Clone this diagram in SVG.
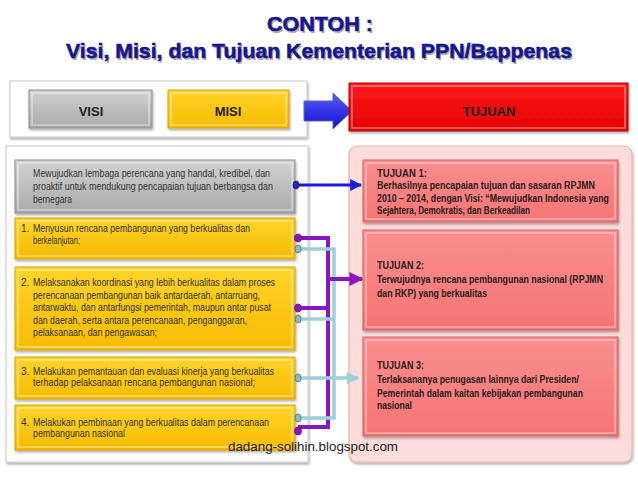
<svg xmlns="http://www.w3.org/2000/svg" width="638" height="479" viewBox="0 0 638 479">
<defs>
<linearGradient id="gGray" x1="0" y1="0" x2="0" y2="1"><stop offset="0" stop-color="#d2d2d2"/><stop offset="1" stop-color="#a9a9a9"/></linearGradient>
<linearGradient id="gYel" x1="0" y1="0" x2="0" y2="1"><stop offset="0" stop-color="#ffd42a"/><stop offset="1" stop-color="#f7bb00"/></linearGradient>
<linearGradient id="gRed" x1="0" y1="0" x2="0" y2="1"><stop offset="0" stop-color="#ff1a1a"/><stop offset="1" stop-color="#e40000"/></linearGradient>
<linearGradient id="gSal" x1="0" y1="0" x2="0" y2="1"><stop offset="0" stop-color="#fb8e8e"/><stop offset="1" stop-color="#f57474"/></linearGradient>
<linearGradient id="gBlue" x1="0" y1="0" x2="0" y2="1"><stop offset="0" stop-color="#5a5aff"/><stop offset="1" stop-color="#1010d0"/></linearGradient>
<marker id="aBlue" viewBox="0 0 10 10" refX="9" refY="5" markerWidth="4" markerHeight="4" orient="auto" markerUnits="strokeWidth"><path d="M0,0 L10,5 L0,10 z" fill="#1c1cd8"/></marker>
<marker id="aPur" viewBox="0 0 10 10" refX="9" refY="5" markerWidth="3.5" markerHeight="3.5" orient="auto" markerUnits="strokeWidth"><path d="M0,0 L10,5 L0,10 z" fill="#8a16c0"/></marker>
<marker id="aLb" viewBox="0 0 10 10" refX="9" refY="5" markerWidth="3.5" markerHeight="3.5" orient="auto" markerUnits="strokeWidth"><path d="M0,0 L10,5 L0,10 z" fill="#9ccfdc"/></marker>
<filter id="sh" x="-5%" y="-5%" width="110%" height="115%"><feDropShadow dx="1" dy="2" stdDeviation="1.2" flood-color="#000" flood-opacity="0.3"/></filter>
</defs>
<style>
.title{font-family:"Liberation Sans",Arial,sans-serif;font-weight:bold;fill:#16168e;stroke:#16168e;stroke-width:0.6;}
.tsh{font-family:"Liberation Sans",Arial,sans-serif;font-weight:bold;fill:#777;opacity:0.6;}
.hdr{font-family:"Liberation Sans",Arial,sans-serif;font-weight:bold;font-size:13px;fill:#222;}
.mt{font-family:"Liberation Sans",Arial,sans-serif;font-size:10px;fill:#333;}
.tt{font-family:"Liberation Sans",Arial,sans-serif;font-weight:bold;font-size:10px;fill:#2a1a1a;}
.panel{fill:#fff;stroke:#cfcfcf;stroke-width:1.2;}
.gray{fill:url(#gGray);stroke:#8c8c8c;stroke-width:1;}
.yel{fill:url(#gYel);stroke:#d9a200;stroke-width:1;}
.sal{fill:url(#gSal);stroke:#d86262;stroke-width:1;}
.hl{fill:none;stroke:#fff;stroke-opacity:0.45;stroke-width:1.5;}
.ln{fill:none;stroke-linejoin:miter;}
</style>
<g id="title">
<text class="tsh" x="321.5" y="32.5" font-size="21" text-anchor="middle" textLength="106" lengthAdjust="spacingAndGlyphs">CONTOH :</text>
<text class="title" x="320" y="31" font-size="21" text-anchor="middle" textLength="106" lengthAdjust="spacingAndGlyphs">CONTOH :</text>
<text class="tsh" x="320.5" y="59.5" font-size="21" text-anchor="middle" textLength="506" lengthAdjust="spacingAndGlyphs">Visi, Misi, dan Tujuan Kementerian PPN/Bappenas</text>
<text class="title" x="319" y="58" font-size="21" text-anchor="middle" textLength="506" lengthAdjust="spacingAndGlyphs">Visi, Misi, dan Tujuan Kementerian PPN/Bappenas</text>
</g>
<g id="header-panel"><rect class="panel" x="10" y="81" width="297" height="56" filter="url(#sh)"/></g>
<g id="visi-header">
<rect class="gray" x="29" y="90" width="123" height="38" filter="url(#sh)"/>
<rect class="hl" x="32" y="93" width="117" height="32"/>
<text class="hdr" x="91" y="116" text-anchor="middle">VISI</text>
</g>
<g id="misi-header">
<rect class="yel" x="168" y="90" width="121" height="38" filter="url(#sh)"/>
<rect class="hl" x="171" y="93" width="115" height="32"/>
<text class="hdr" x="228" y="116" text-anchor="middle">MISI</text>
</g>
<g id="big-arrow"><path d="M304,101 L333,101 L333,93 L352,111 L333,129 L333,121 L304,121 Z" fill="url(#gBlue)" stroke="#5a6aa0" stroke-width="1"/></g>
<g id="tujuan-header">
<rect x="349" y="83" width="279" height="48" fill="url(#gRed)" stroke="#b80000" stroke-width="1" filter="url(#sh)"/>
<rect class="hl" x="352" y="86" width="273" height="42"/>
<text class="hdr" x="489" y="116" text-anchor="middle" fill="#3a0000">TUJUAN</text>
</g>
<g id="misi-panel"><rect class="panel" x="6" y="146" width="302" height="316" filter="url(#sh)"/></g>
<g id="tujuan-panel"><rect x="349" y="146" width="283" height="316" rx="8" fill="#fddcdc" stroke="#f0aeae" stroke-width="1.2" filter="url(#sh)"/></g>
<g id="visi">
<rect class="gray" x="15" y="160" width="280" height="53" filter="url(#sh)"/>
<rect class="hl" x="18" y="163" width="274" height="47"/>
<text class="mt"><tspan x="33" y="177" textLength="237" lengthAdjust="spacingAndGlyphs">Mewujudkan lembaga perencana yang handal, kredibel, dan</tspan><tspan x="33" y="190" textLength="240" lengthAdjust="spacingAndGlyphs">proaktif untuk mendukung pencapaian tujuan berbangsa dan</tspan><tspan x="33" y="203" textLength="39" lengthAdjust="spacingAndGlyphs">bernegara</tspan></text>
</g>
<g id="misi1">
<rect class="yel" x="15" y="218" width="280" height="41" filter="url(#sh)"/>
<rect class="hl" x="18" y="221" width="274" height="35"/>
<text class="mt"><tspan x="21" y="232">1.</tspan><tspan x="33" y="232" textLength="217" lengthAdjust="spacingAndGlyphs">Menyusun rencana pembangunan yang berkualitas dan</tspan><tspan x="33" y="244" textLength="47" lengthAdjust="spacingAndGlyphs">berkelanjutan;</tspan></text>
</g>
<g id="misi2">
<rect class="yel" x="15" y="267" width="280" height="83" filter="url(#sh)"/>
<rect class="hl" x="18" y="270" width="274" height="77"/>
<text class="mt"><tspan x="21" y="286">2.</tspan><tspan x="33" y="286" textLength="242" lengthAdjust="spacingAndGlyphs">Melaksanakan koordinasi yang lebih berkualitas dalam proses</tspan><tspan x="33" y="299" textLength="227" lengthAdjust="spacingAndGlyphs">perencanaan pembangunan baik antardaerah, antarruang,</tspan><tspan x="33" y="311" textLength="238" lengthAdjust="spacingAndGlyphs">antarwaktu, dan antarfungsi pemerintah, maupun antar pusat</tspan><tspan x="33" y="324" textLength="214" lengthAdjust="spacingAndGlyphs">dan daerah, serta antara perencanaan, penganggaran,</tspan><tspan x="33" y="336" textLength="124" lengthAdjust="spacingAndGlyphs">pelaksanaan, dan pengawasan;</tspan></text>
</g>
<g id="misi3">
<rect class="yel" x="15" y="357" width="280" height="42" filter="url(#sh)"/>
<rect class="hl" x="18" y="360" width="274" height="36"/>
<text class="mt"><tspan x="21" y="375">3.</tspan><tspan x="33" y="375" textLength="241" lengthAdjust="spacingAndGlyphs">Melakukan pemantauan dan evaluasi kinerja yang berkualitas</tspan><tspan x="33" y="386" textLength="222" lengthAdjust="spacingAndGlyphs">terhadap pelaksanaan rencana pembangunan nasional;</tspan></text>
</g>
<g id="misi4">
<rect class="yel" x="15" y="405" width="280" height="45" filter="url(#sh)"/>
<rect class="hl" x="18" y="408" width="274" height="39"/>
<text class="mt"><tspan x="21" y="426">4.</tspan><tspan x="33" y="426" textLength="236" lengthAdjust="spacingAndGlyphs">Melakukan pembinaan  yang berkualitas dalam perencanaan</tspan><tspan x="33" y="437" textLength="92" lengthAdjust="spacingAndGlyphs">pembangunan nasional</tspan></text>
</g>
<g id="tujuan1">
<rect class="sal" x="363" y="160" width="255" height="62" filter="url(#sh)"/>
<rect class="hl" x="366" y="163" width="249" height="56"/>
<text class="tt"><tspan x="377" y="177" textLength="50" lengthAdjust="spacingAndGlyphs">TUJUAN 1:</tspan><tspan x="377" y="189" textLength="218" lengthAdjust="spacingAndGlyphs">Berhasilnya  pencapaian tujuan dan sasaran RPJMN</tspan></text>
<text class="tt" transform="translate(377,202) scale(0.8,1)" x="0" y="0" textLength="290" lengthAdjust="spacingAndGlyphs">2010 – 2014, dengan Visi:  “Mewujudkan Indonesia yang</text>
<text class="tt"><tspan x="377" y="214" textLength="153" lengthAdjust="spacingAndGlyphs">Sejahtera, Demokratis, dan Berkeadilan</tspan></text>
</g>
<g id="tujuan2">
<rect class="sal" x="363" y="230" width="255" height="100" filter="url(#sh)"/>
<rect class="hl" x="366" y="233" width="249" height="94"/>
<text class="tt"><tspan x="377" y="269" textLength="47" lengthAdjust="spacingAndGlyphs">TUJUAN 2:</tspan><tspan x="377" y="283" textLength="226" lengthAdjust="spacingAndGlyphs">Terwujudnya rencana pembangunan nasional (RPJMN</tspan><tspan x="377" y="297" textLength="110" lengthAdjust="spacingAndGlyphs">dan RKP) yang berkualitas</tspan></text>
</g>
<g id="tujuan3">
<rect class="sal" x="363" y="337" width="255" height="99" filter="url(#sh)"/>
<rect class="hl" x="366" y="340" width="249" height="93"/>
<text class="tt"><tspan x="377" y="369" textLength="47" lengthAdjust="spacingAndGlyphs">TUJUAN 3:</tspan><tspan x="377" y="383" textLength="202" lengthAdjust="spacingAndGlyphs">Terlaksananya penugasan lainnya dari Presiden/</tspan><tspan x="377" y="397" textLength="206" lengthAdjust="spacingAndGlyphs">Pemerintah dalam kaitan kebijakan pembangunan</tspan><tspan x="377" y="409" textLength="35" lengthAdjust="spacingAndGlyphs">nasional</tspan></text>
</g>
<g id="connectors">
<path class="ln" d="M296,185 L361,185" stroke="#1c1cd8" stroke-width="3" marker-end="url(#aBlue)"/>
<path class="ln" d="M298,238 L328,238 L328,427 L298,427" stroke="#8a16c0" stroke-width="4"/>
<path class="ln" d="M298,308 L328,308" stroke="#8a16c0" stroke-width="4"/>
<path class="ln" d="M298,249 L334,249 L334,418 L298,418" stroke="#9ccfdc" stroke-width="3.5"/>
<path class="ln" d="M298,319 L334,319" stroke="#9ccfdc" stroke-width="3.5"/>
<path class="ln" d="M298,378 L358,378" stroke="#9ccfdc" stroke-width="3.5" marker-end="url(#aLb)"/>
<path class="ln" d="M328,279 L362,279" stroke="#8a16c0" stroke-width="4" marker-end="url(#aPur)"/>
<ellipse cx="296" cy="185" rx="3" ry="4" fill="#2a2ab8" stroke="#10108a" stroke-width="0.8"/>
<ellipse cx="298" cy="238" rx="3.5" ry="4" fill="#8a16c0" stroke="#6a0a98" stroke-width="0.8"/>
<ellipse cx="298" cy="308" rx="3.5" ry="4" fill="#8a16c0" stroke="#6a0a98" stroke-width="0.8"/>
<ellipse cx="298" cy="431" rx="3.5" ry="4" fill="#8a16c0" stroke="#6a0a98" stroke-width="0.8"/>
<ellipse cx="298" cy="249" rx="3" ry="4" fill="#8fb9c2" stroke="#4a7f8c" stroke-width="0.9"/>
<ellipse cx="298" cy="319" rx="3" ry="4" fill="#8fb9c2" stroke="#4a7f8c" stroke-width="0.9"/>
<ellipse cx="298" cy="378" rx="3" ry="4" fill="#8fb9c2" stroke="#4a7f8c" stroke-width="0.9"/>
<ellipse cx="298" cy="418" rx="3" ry="4" fill="#8fb9c2" stroke="#4a7f8c" stroke-width="0.9"/>
</g>
<g id="watermark"><text x="228" y="451" font-family="Liberation Sans, Arial, sans-serif" font-size="12.5" fill="#1a1a1a" textLength="170" lengthAdjust="spacingAndGlyphs">dadang-solihin.blogspot.com</text></g>
</svg>
